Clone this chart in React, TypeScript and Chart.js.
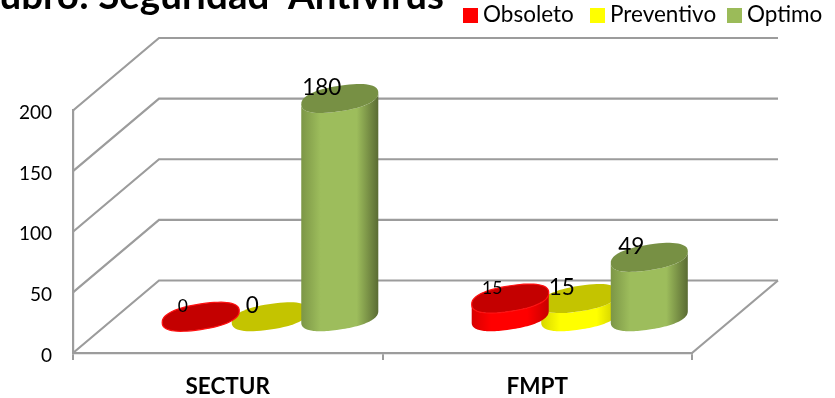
import React, { useEffect, useRef } from "react";
import { Chart, registerables } from "chart.js";

Chart.register(...registerables);

const categories = ["SECTUR", "FMPT"];
const obsoleto = [0, 15];
const preventivo = [0, 15];
const optimo = [180, 49];
const yTicks = { min: 0, max: 200, stepSize: 50 };
const titleText = "ubro: Seguridad  Antivirus";

const FONT = "Lato, 'Open Sans', sans-serif";
const BACK_DX = 86;
const BACK_DY = 72.5;
const GRID = "#9c9c9c";

type Look = {
  cap: string;
  rim: string | null;
  side: [string, string, string, string];
  labelSize: number;
  legendBox: number;
  legendText: number;
};

const looks: Look[] = [
  { cap: "#c40000", rim: "#ff1010", side: ["#d80000", "#ff0000", "#ff0000", "#c80000"], labelSize: 17.5, legendBox: 463, legendText: 483 },
  { cap: "#c4c400", rim: null, side: ["#d8d800", "#ffff00", "#ffff00", "#c8c800"], labelSize: 22.5, legendBox: 590, legendText: 610 },
  { cap: "#779044", rim: null, side: ["#7c9646", "#9dbd5c", "#9dbd5c", "#5a6b33"], labelSize: 22.5, legendBox: 727, legendText: 747 },
];

const cylinderPlugin = {
  id: "cylinders",
  beforeDatasetsDraw(chart: any) {
    const { ctx, chartArea, scales } = chart;
    const { left, right, bottom } = chartArea;
    const y = scales.y;

    // walls and floor of the 3D box
    ctx.save();
    ctx.strokeStyle = GRID;
    ctx.lineWidth = 2.2;
    for (const t of y.ticks) {
      const py = y.getPixelForValue(t.value);
      ctx.beginPath();
      ctx.moveTo(left, py);
      ctx.lineTo(left + BACK_DX, py - BACK_DY);
      ctx.lineTo(right + BACK_DX, py - BACK_DY);
      ctx.stroke();
    }
    ctx.beginPath();
    ctx.moveTo(right, bottom);
    ctx.lineTo(right + BACK_DX, bottom - BACK_DY);
    ctx.stroke();
    ctx.restore();

    const dx = BACK_DX / 2 - 0.5;
    const dy = BACK_DY / 2;
    const shear = 0.15;
    const minor = 12.8;
    const blunt = (v: number) => Math.sign(v) * Math.pow(Math.abs(v), 0.85);

    const drawCylinder = (bar: any, look: Look) => {
      const a = bar.width / 2;
      const cx = bar.x + dx;
      const top = bar.y - dy;
      const base = bar.base - dy;
      const path = (cy: number, start: number, end: number, move: boolean) => {
        for (let i = 0; i <= 64; i++) {
          const t = start + ((end - start) * i) / 64;
          const c = blunt(Math.cos(t));
          const ex = cx + a * c;
          const ey = cy + minor * blunt(Math.sin(t)) - shear * a * c;
          if (i === 0 && move) ctx.moveTo(ex, ey);
          else ctx.lineTo(ex, ey);
        }
      };
      if (base - top > 0.5) {
        const g = ctx.createLinearGradient(cx - a, 0, cx + a, 0);
        g.addColorStop(0, look.side[0]);
        g.addColorStop(0.25, look.side[1]);
        g.addColorStop(0.72, look.side[2]);
        g.addColorStop(1, look.side[3]);
        ctx.beginPath();
        path(top, Math.PI, 0, true);
        path(base, 0, Math.PI, false);
        ctx.closePath();
        ctx.fillStyle = g;
        ctx.fill();
      }
      ctx.beginPath();
      path(top, 0, Math.PI * 2, true);
      ctx.closePath();
      ctx.fillStyle = look.cap;
      ctx.fill();
      if (look.rim) {
        ctx.strokeStyle = look.rim;
        ctx.lineWidth = 1.2;
        ctx.stroke();
      }
    };

    // yellow sits behind its red and green neighbours
    for (const i of [1, 0, 2]) {
      chart.getDatasetMeta(i).data.forEach((bar: any) => drawCylinder(bar, looks[i]));
    }

    // value labels
    ctx.save();
    ctx.fillStyle = "#000";
    ctx.textAlign = "center";
    ctx.textBaseline = "middle";
    chart.data.datasets.forEach((ds: any, i: number) => {
      ctx.font = `${looks[i].labelSize}px ${FONT}`;
      chart.getDatasetMeta(i).data.forEach((bar: any, j: number) => {
        ctx.fillText(String(ds.data[j]), bar.x + dx - 18, bar.y - dy - (i === 0 ? 10 : 11));
      });
    });

    // title, cut by the top edge of the picture
    ctx.textAlign = "right";
    ctx.textBaseline = "alphabetic";
    ctx.font = `bold 38.5px ${FONT}`;
    ctx.fillText(titleText, 444, 9);

    // legend
    ctx.textAlign = "left";
    ctx.textBaseline = "middle";
    ctx.font = `22.5px ${FONT}`;
    chart.data.datasets.forEach((ds: any, i: number) => {
      ctx.fillStyle = ds.backgroundColor;
      ctx.fillRect(looks[i].legendBox, 8, 15, 15);
      ctx.fillStyle = "#000";
      ctx.fillText(ds.label, looks[i].legendText, 15);
    });
    ctx.restore();
    return false;
  },
};

export default function App() {
  const ref = useRef<HTMLCanvasElement>(null);
  useEffect(() => {
    document.body.style.margin = "0";
    const chart = new Chart(ref.current!, {
      type: "bar",
      data: {
        labels: categories,
        datasets: [
          { label: "Obsoleto", data: obsoleto, backgroundColor: "#ff0000" },
          { label: "Preventivo", data: preventivo, backgroundColor: "#ffff00" },
          { label: "Optimo", data: optimo, backgroundColor: "#9bbb59" },
        ],
      },
      options: {
        animation: false,
        responsive: false,
        layout: { padding: { left: 0, right: 143, top: 110.5, bottom: 0 } },
        datasets: { bar: { barPercentage: 1.108, categoryPercentage: 0.674 } },
        plugins: { legend: { display: false }, title: { display: false }, tooltip: { enabled: false } },
        scales: {
          x: {
            grid: { display: true, drawOnChartArea: false, drawTicks: true, tickLength: 7, color: GRID, lineWidth: 2, offset: true },
            border: { display: true, color: GRID, width: 2.2 },
            ticks: { color: "#000", padding: 13, font: { family: FONT, size: 22.5, weight: "bold" }, maxRotation: 0 },
            afterFit: (s: any) => { s.height = 45; },
          },
          y: {
            min: yTicks.min,
            max: yTicks.max,
            grid: { display: false, drawTicks: false },
            border: { display: true, color: GRID, width: 2.2 },
            ticks: { stepSize: yTicks.stepSize, color: "#000", padding: 21, labelOffset: 2.5, font: { family: FONT, size: 19 } },
            afterFit: (s: any) => { s.width = 73; },
          },
        },
      } as any,
      plugins: [cylinderPlugin],
    });
    return () => chart.destroy();
  }, []);
  return <canvas ref={ref} width={835} height={398} style={{ display: "block" }} />;
}
